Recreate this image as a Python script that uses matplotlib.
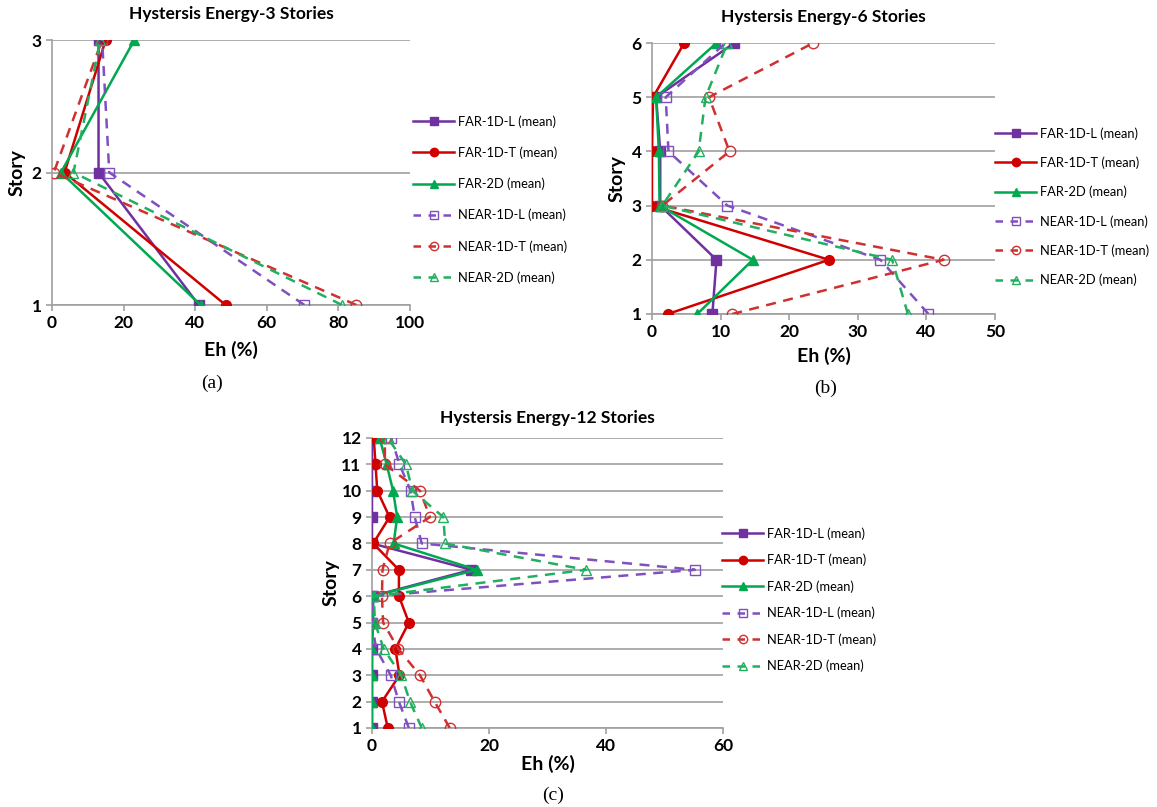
import matplotlib
matplotlib.use("Agg")
import matplotlib.pyplot as plt
from matplotlib.lines import Line2D

plt.rcParams['font.family'] = ['Lato', 'DejaVu Sans']

series_names = ["FAR-1D-L (mean)", "FAR-1D-T (mean)", "FAR-2D (mean)",
                "NEAR-1D-L (mean)", "NEAR-1D-T (mean)", "NEAR-2D (mean)"]
colors = ["#7030A0", "#D00000", "#00A84F", "#8050C0", "#D03030", "#20B060"]
markers = ["s", "o", "^", "s", "o", "^"]

# 3 stories (story 1..3)
stories_3 = [1, 2, 3]
eh_3 = {
    "FAR-1D-L (mean)": [41, 13, 13],
    "FAR-1D-T (mean)": [48.5, 3.5, 15],
    "FAR-2D (mean)": [41.5, 2.5, 23],
    "NEAR-1D-L (mean)": [70.5, 16, 14],
    "NEAR-1D-T (mean)": [85, 0.5, 14],
    "NEAR-2D (mean)": [81, 6, 13.5],
}

# 6 stories
stories_6 = [1, 2, 3, 4, 5, 6]
eh_6 = {
    "FAR-1D-L (mean)": [8.8, 9.4, 1.2, 1.2, 0.6, 12],
    "FAR-1D-T (mean)": [2.3, 25.8, 0, 0, 0.15, 4.7],
    "FAR-2D (mean)": [6.6, 14.7, 1.1, 1.0, 0.6, 9.4],
    "NEAR-1D-L (mean)": [40.3, 33.3, 11, 2.4, 2.0, 10.7],
    "NEAR-1D-T (mean)": [11.7, 42.5, 1.5, 11.3, 8.3, 23.5],
    "NEAR-2D (mean)": [37.3, 35, 1.5, 6.8, 7.8, 11],
}

# 12 stories
stories_12 = list(range(1, 13))
eh_12 = {
    "FAR-1D-L (mean)": [0, 0, 0, 0, 0, 0, 17, 0, 0, 0, 0, 0],
    "FAR-1D-T (mean)": [2.7, 1.7, 4.7, 4.0, 6.3, 4.6, 4.6, 0.2, 3.0, 0.9, 0.6, 0.3],
    "FAR-2D (mean)": [0, 0, 0, 0, 0.2, 0.2, 17.9, 3.7, 4.3, 3.6, 2.5, 1.3],
    "NEAR-1D-L (mean)": [6.3, 4.6, 3.2, 0.7, 0, 0.2, 55.2, 8.5, 7.3, 6.6, 4.7, 3.3],
    "NEAR-1D-T (mean)": [13.3, 10.7, 8.2, 4.5, 1.9, 1.7, 1.8, 3.0, 9.9, 8.2, 2.2, 2.2],
    "NEAR-2D (mean)": [8.5, 6.5, 5.0, 2.0, 0.5, 0.3, 36.6, 12.5, 12.2, 6.9, 5.8, 2.7],
}

panels = [
    ("Hystersis Energy-3 Stories", stories_3, eh_3, (0, 100), 20, "(a)"),
    ("Hystersis Energy-6 Stories", stories_6, eh_6, (0, 50), 10, "(b)"),
    ("Hystersis Energy-12 Stories", stories_12, eh_12, (0, 60), 20, "(c)"),
]

W, H = 1157, 807
fig = plt.figure(figsize=(W / 100, H / 100), dpi=100)

# axes boxes in pixels: left, top, right, bottom
boxes = [(52, 40, 410, 305), (652, 43, 995, 314), (372, 438, 723, 728)]
legend_pos = [(413, 115), (995, 127), (722, 527)]
legend_spacing = [1.45, 1.3, 1.08]
caption_pos = [(212, 383), (826, 388), (553, 795)]
xlabel_pad = [7, 5, 1]
title_pad = [15, 15, 11]
ylabel_pad = [4, 4, 1]


def draw(ax, title, stories, data, xlim, step, k):
    for i, name in enumerate(series_names):
        near = name.startswith("NEAR")
        ax.plot(data[name], stories, color=colors[i], lw=1.8,
                ls=(0, (4, 3)) if near else "-",
                marker=markers[i], ms=7 if not near else 7.5,
                mfc="none" if near else colors[i], mec=colors[i],
                mew=1.0, label=name, zorder=3)
    ax.set_xlim(*xlim)
    ax.set_ylim(stories[0], stories[-1])
    ax.set_xticks(range(xlim[0], xlim[1] + 1, step))
    ax.set_yticks(stories)
    ax.grid(axis="y", color="#a0a0a0", lw=1.2)
    ax.set_axisbelow(True)
    for s in ["top", "right"]:
        ax.spines[s].set_visible(False)
    for s in ["left", "bottom"]:
        ax.spines[s].set_color("#a0a0a0")
        ax.spines[s].set_linewidth(1.2)
    ax.tick_params(colors="#a0a0a0", labelcolor="black", labelsize=12.5,
                   length=4, width=1.2)
    ax.tick_params(axis="x", pad=3)
    for lab in ax.get_xticklabels() + ax.get_yticklabels():
        lab.set_fontweight("bold")
    ax.set_title(title, fontsize=12.5, fontweight="bold", pad=title_pad[k])
    ax.set_xlabel("Eh (%)", fontsize=14, fontweight="bold", labelpad=xlabel_pad[k])
    ax.set_ylabel("Story", fontsize=14, fontweight="bold", labelpad=ylabel_pad[k])


for k, (title, stories, data, xlim, step, cap) in enumerate(panels):
    l, t, r, b = boxes[k]
    ax = fig.add_axes([l / W, 1 - b / H, (r - l) / W, (b - t) / H])
    draw(ax, title, stories, data, xlim, step, k)
    lx, ly = legend_pos[k]
    handles = [Line2D([], [], color=colors[i], lw=1.8,
                      ls=(0, (3, 3)) if n.startswith("NEAR") else "-",
                      marker=markers[i], ms=6,
                      mfc="none" if n.startswith("NEAR") else colors[i],
                      mec=colors[i]) for i, n in enumerate(series_names)]
    fig.legend(handles, series_names, loc="upper left",
               bbox_to_anchor=(lx / W, 1 - ly / H), frameon=False,
               fontsize=9.3, labelspacing=legend_spacing[k], handlelength=3.2,
               handletextpad=0.3, borderaxespad=0, borderpad=0)
    cx, cy = caption_pos[k]
    fig.text(cx / W, 1 - cy / H, cap, ha="center", va="center",
             fontsize=14, family="Liberation Serif")

fig.savefig("out.png", dpi=100)
